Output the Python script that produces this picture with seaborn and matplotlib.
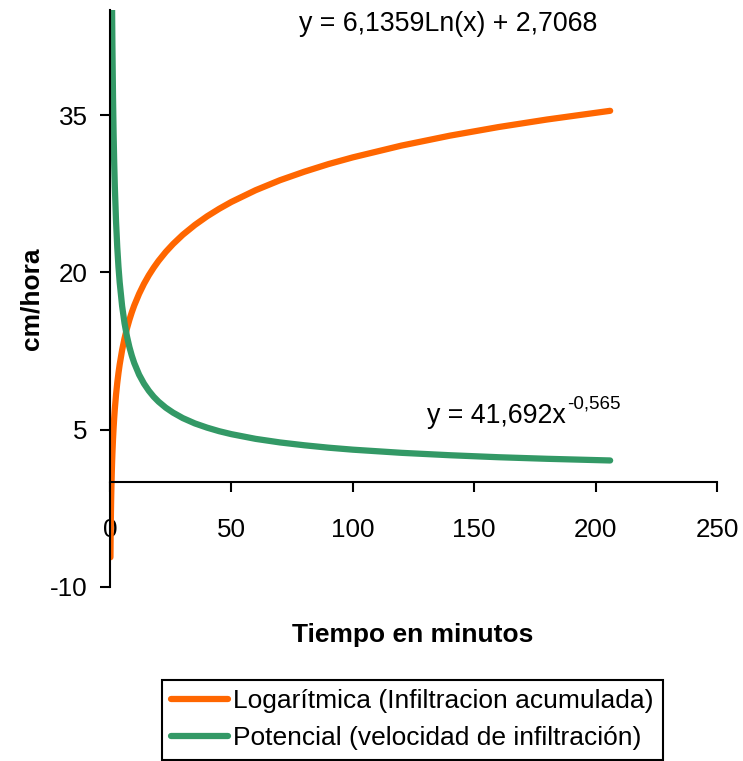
import pandas as pd
import seaborn as sns
import matplotlib.pyplot as plt

# values
tiempo = [0.2, 0.25, 0.3, 0.4, 0.5, 0.6, 0.75, 0.9, 1, 1.25, 1.5, 1.75, 2, 2.5, 3,
          3.5, 4, 5, 6, 7, 8, 9, 10, 12, 14, 16, 18, 20, 23, 26, 30, 35, 40, 45,
          50, 60, 70, 80, 90, 100, 120, 140, 160, 180, 206]
infiltracion_acum = [-7.17, -5.80, -4.68, -2.92, -1.55, -0.43, 0.94, 2.06, 2.71, 4.08,
                     5.19, 6.14, 6.96, 8.33, 9.45, 10.39, 11.21, 12.58, 13.70, 14.65,
                     15.47, 16.19, 16.84, 17.95, 18.90, 19.72, 20.44, 21.09, 21.95,
                     22.70, 23.58, 24.52, 25.34, 26.06, 26.71, 27.83, 28.78, 29.59,
                     30.32, 30.96, 32.08, 33.03, 33.85, 34.57, 35.40]
tiempo_vel = tiempo[4:]
velocidad = [61.7, 55.64, 49.05, 44.25, 41.69, 36.75, 33.16, 30.39, 28.18, 24.84,
             22.41, 20.54, 19.05, 16.79, 15.15, 13.89, 12.88, 12.05, 11.35, 10.24,
             9.39, 8.71, 8.14, 7.67, 7.09, 6.62, 6.10, 5.59, 5.19, 4.85, 4.57,
             4.12, 3.78, 3.51, 3.28, 3.09, 2.79, 2.56, 2.37, 2.22, 2.06]
series = ["Logarítmica (Infiltracion acumulada)", "Potencial (velocidad de infiltración)"]
colores = ["#FF6600", "#339966"]
x_ticks = [0, 50, 100, 150, 200, 250]
y_ticks = [-10, 5, 20, 35]

df = pd.concat([
    pd.DataFrame({"t": tiempo, "v": infiltracion_acum, "serie": series[0]}),
    pd.DataFrame({"t": tiempo_vel, "v": velocidad, "serie": series[1]}),
])

sns.set_theme(style="white")
plt.rcParams['font.family'] = ['Liberation Sans', 'DejaVu Sans']
plt.rcParams['axes.unicode_minus'] = False
plt.rcParams['text.color'] = 'black'
plt.rcParams['xtick.color'] = 'black'
plt.rcParams['ytick.color'] = 'black'

fig = plt.figure(figsize=(7.43, 7.61), dpi=100)
ax = fig.add_axes([0.148, 0.2287, 0.817, 0.758])

sns.lineplot(data=df, x="t", y="v", hue="serie", palette=colores, linewidth=4.5,
             sort=False, estimator=None, legend=False, ax=ax,
             solid_capstyle='round', solid_joinstyle='round')

ax.set_xlim(0, 250)
ax.set_ylim(-10, 45)
ax.set_xticks(x_ticks)
ax.set_yticks(y_ticks)

# x axis crosses at y = 0
ax.spines['bottom'].set_position(('data', 0))
ax.spines['top'].set_visible(False)
ax.spines['right'].set_visible(False)
for s in ['left', 'bottom']:
    ax.spines[s].set_color('black')
    ax.spines[s].set_linewidth(1.5)

ax.tick_params(axis='x', direction='out', length=7, width=1.5, pad=19,
               labelsize=18.7, colors='black', bottom=True)
ax.tick_params(axis='y', direction='out', length=7, width=1.5, pad=9,
               labelsize=18.7, colors='black', left=True)

ax.set_xlabel("")
ax.set_ylabel("")
fig.text(0.555, 0.166, "Tiempo en minutos", ha='center', va='center',
         fontsize=19, fontweight='bold', color='black')
fig.text(0.043, 0.608, "cm/hora", ha='center', va='center', rotation=90,
         fontsize=19, fontweight='bold', color='black')

# trend line equations
ax.text(139.3, 43.7, "y = 6,1359Ln(x) + 2,7068", ha='center', va='center',
        fontsize=19.3, color='black')
t1 = ax.text(130.6, 5.6, "y = 41,692x", ha='left', va='baseline', fontsize=19.3,
             color='black')
ax.annotate("-0,565", xy=(1, 1), xycoords=t1, ha='left', va='top', fontsize=13.5,
            xytext=(1, 6), textcoords='offset points', color='black')

handles = ax.get_lines()[:2]
leg = ax.legend(handles, series, loc='upper center', bbox_to_anchor=(0.555, 0.1064),
                bbox_transform=fig.transFigure, fontsize=19, frameon=True,
                fancybox=False, edgecolor='black', framealpha=1, handlelength=2.15,
                handletextpad=0.2, labelspacing=0.5, borderpad=0.35, borderaxespad=0)
leg.get_frame().set_linewidth(1.5)
for t in leg.get_texts():
    t.set_color('black')

fig.savefig("out.png", dpi=100)
